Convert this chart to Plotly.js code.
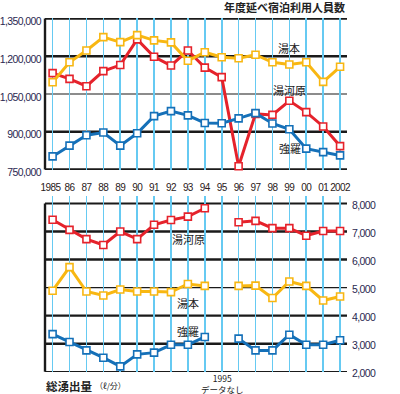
<!DOCTYPE html>
<html>
<head>
<meta charset="utf-8">
<script src="https://cdn.plot.ly/plotly-3.0.1.min.js"></script>
<style>
html,body{margin:0;padding:0;background:#fff;}
#chart{width:400px;height:394px;}
.xtick text, .ytick text, .y2tick text { letter-spacing: -0.6px; }
</style>
</head>
<body>
<div id="chart"></div>
<script>
// ---- data ----
const years = [1985,1986,1987,1988,1989,1990,1991,1992,1993,1994,1995,1996,1997,1998,1999,2000,2001,2002];
const yearLabels = ['1985','86','87','88','89','90','91','92','93','94','95','96','97','98','99','00','01','2002'];

// 年度延べ宿泊利用人員数 (persons)
const yumotoStay   = [1097000,1176000,1223000,1276000,1256000,1284000,1263000,1255000,1182000,1216000,1196000,1192000,1206000,1176000,1167000,1176000,1098000,1158000];
const yugawaraStay = [1133000,1110000,1081000,1141000,1165000,1267000,1198000,1163000,1223000,1155000,1117000,763000,971000,967000,1023000,978000,921000,843000];
const goraStay     = [802000,845000,886000,897000,845000,894000,962000,982000,965000,935000,934000,953000,974000,933000,910000,833000,819000,806000];

// 総湧出量 (ℓ/分), 1995: no data
const yugawaraFlow = [7420,7060,6730,6520,7000,6730,7240,7410,7530,7830,null,7330,7380,7120,7120,6850,7020,7020];
const yumotoFlow   = [4890,5730,4860,4720,4930,4860,4860,4840,5130,5060,null,5060,5070,4630,5220,5060,4540,4680];
const goraFlow     = [3340,3060,2760,2500,2190,2620,2680,2960,2960,3240,null,3180,2760,2760,3320,2960,2960,3120];

const topTicks = [750000,900000,1050000,1200000,1350000];
const bottomTicks = [2000,3000,4000,5000,6000,7000,8000];

// ---- styles ----
const RED = '#e5222b', YEL = '#f8b712', BLU = '#1570b8';
const GRIDBLUE = '#66caf2';
const NUMFONT = '"Liberation Sans", Arial, sans-serif';
const CJK = '"Noto Sans CJK JP", sans-serif';
const topThin = [1050000];
const bottomThin = [2000, 5000];

// first label sits a little left of its tick in the original
const displayLabels = yearLabels.map((t, i) => i === 0 ? t + '\u00a0\u00a0' : t);

function series(x, y, color, xa, ya) {
  return {
    x: x, y: y, xaxis: xa, yaxis: ya, type: 'scatter', mode: 'lines+markers',
    line: {color: color, width: 3},
    marker: {symbol: 'square', size: 7, color: '#ffffff', line: {color: color, width: 1.6}},
    cliponaxis: false, hoverinfo: 'skip', showlegend: false
  };
}

const data = [
  series(years, yugawaraStay, RED, 'x', 'y'),
  series(years, yumotoStay, YEL, 'x', 'y'),
  series(years, goraStay, BLU, 'x', 'y'),
  series(years, yugawaraFlow, RED, 'x2', 'y2'),
  series(years, yumotoFlow, YEL, 'x2', 'y2'),
  series(years, goraFlow, BLU, 'x2', 'y2')
];

const shapes = [];
topTicks.forEach(v => shapes.push({type: 'line', xref: 'paper', yref: 'y', x0: 0, x1: 1, y0: v, y1: v,
  layer: 'between', line: {color: '#1a1a1a', width: topThin.includes(v) ? 1.2 : 2.4}}));
bottomTicks.forEach(v => shapes.push({type: 'line', xref: 'paper', yref: 'y2', x0: 0, x1: 1, y0: v, y1: v,
  layer: 'between', line: {color: '#1a1a1a', width: bottomThin.includes(v) ? 1.2 : (v === 8000 ? 1.8 : 2.4)}}));
shapes.push({type: 'line', xref: 'paper', yref: 'y', x0: 0, x1: 0, y0: topTicks[0], y1: topTicks[topTicks.length-1],
  layer: 'between', line: {color: '#1a1a1a', width: 2.4}});
shapes.push({type: 'line', xref: 'paper', yref: 'y2', x0: 0, x1: 0, y0: bottomTicks[0], y1: bottomTicks[bottomTicks.length-1],
  layer: 'between', line: {color: '#1a1a1a', width: 2.4}});

// pixel helpers for annotation placement (plot area: x 45..347, y 18..372)
const PX = x => (x - 45) / 302;
const PY = y => (372 - y) / 354;

function ann(text, x, y, size, opts) {
  return Object.assign({text: text, xref: 'paper', yref: 'paper', x: PX(x), y: PY(y), showarrow: false,
    xanchor: 'center', yanchor: 'middle', font: {family: CJK, size: size, color: '#222'}}, opts || {});
}

const annotations = [
  ann('<b>年度延べ宿泊利用人員数</b>', 347, 7, 11, {xanchor: 'right'}),
  ann('湯本', 288.5, 48, 11),
  ann('湯河原', 289.5, 89.5, 11),
  ann('強羅', 289.5, 148, 11),
  ann('湯河原', 188.5, 238.5, 11),
  ann('湯本', 188, 303, 11),
  ann('強羅', 188, 331, 11),
  ann('<b>総湧出量</b>', 44, 385.7, 11.5, {xanchor: 'left'}),
  ann('（ℓ/分）', 93, 385.7, 8, {xanchor: 'left'}),
  ann('1995<br>データなし', 222.5, 384, 8.5)
];

const layout = {
  width: 400, height: 394,
  margin: {l: 45, r: 53, t: 18, b: 22, pad: 0},
  paper_bgcolor: '#ffffff', plot_bgcolor: '#ffffff',
  showlegend: false,
  xaxis: {domain: [0, 1], anchor: 'y', range: [1984.55, 2002.41], tickvals: years, ticktext: displayLabels,
    tickangle: 0, showgrid: true, gridcolor: GRIDBLUE, gridwidth: 1.6, zeroline: false, showline: false, ticks: '',
    ticklabelstandoff: 10, tickfont: {family: NUMFONT, size: 10, color: '#2a2020'}, fixedrange: true},
  yaxis: {domain: [0.5706, 1], anchor: 'x', range: [748000, 1352000], tickvals: topTicks, tickformat: ',',
    showgrid: false, zeroline: false, showline: false, ticks: '', ticklabelstandoff: 3, ticklabelshift: 3,
    tickfont: {family: NUMFONT, size: 10.5, color: '#2a2850'}, fixedrange: true},
  xaxis2: {domain: [0, 1], anchor: 'y2', range: [1984.55, 2002.41], tickvals: years, showticklabels: false,
    showgrid: true, gridcolor: GRIDBLUE, gridwidth: 1.6, zeroline: false, showline: false, ticks: '', fixedrange: true},
  yaxis2: {domain: [0, 0.4972], anchor: 'x2', side: 'right', range: [1990, 8267], tickvals: bottomTicks, tickformat: ',',
    showgrid: false, zeroline: false, showline: false, ticks: '', ticklabelstandoff: 4, ticklabelshift: 2,
    tickfont: {family: NUMFONT, size: 10.5, color: '#2a2850'}, fixedrange: true},
  shapes: shapes,
  annotations: annotations
};

Plotly.newPlot('chart', data, layout, {staticPlot: true, displayModeBar: false});
</script>
</body>
</html>
